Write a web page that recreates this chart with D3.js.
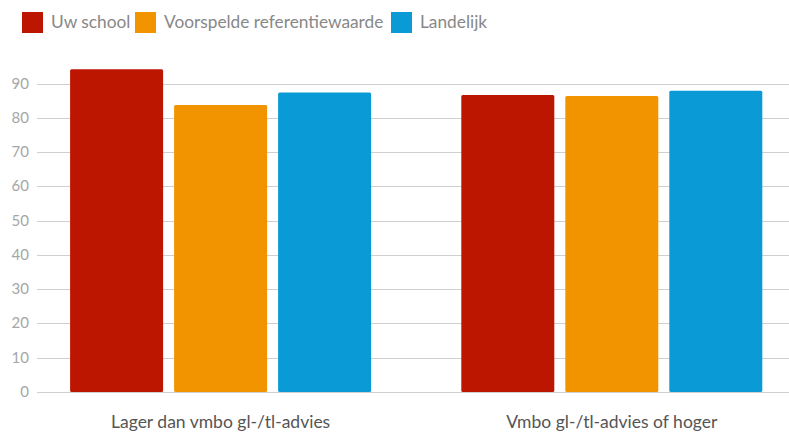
<!DOCTYPE html>
<html>
<head>
<meta charset="utf-8">
<script src="https://cdn.jsdelivr.net/npm/d3@7"></script>
<style>
  body { margin: 0; background: #fff; }
  svg { display: block; font-family: Lato, "Open Sans", sans-serif; }
</style>
</head>
<body>
<svg id="chart" width="789" height="434"></svg>
<script>
// chart data
const categories = ["Lager dan vmbo gl-/tl-advies", "Vmbo gl-/tl-advies of hoger"]
const seriesNames = ["Uw school", "Voorspelde referentiewaarde", "Landelijk"]
const seriesColors = ["#bd1600", "#f29400", "#0a9bd6"]
const uwSchool = [94.2, 86.7]
const voorspeld = [83.8, 86.4]
const landelijk = [87.4, 87.9]
const yTicks = [0, 10, 20, 30, 40, 50, 60, 70, 80, 90]

const seriesValues = [uwSchool, voorspeld, landelijk]

const svg = d3.select("#chart")
const gridLeft = 37
const gridRight = 789

const y = d3.scaleLinear()
  .domain([0, 100])
  .range([392, 49.4])

const x0 = d3.scaleBand()
  .domain(categories)
  .range([25, 807.4])

const groupWidth = 301
const x1 = d3.scaleBand()
  .domain(seriesNames)
  .range([(x0.step() - groupWidth) / 2, (x0.step() + groupWidth) / 2])
  .paddingInner(11 / 104)

// gridlines
svg.append("g")
  .selectAll("line")
  .data(yTicks)
  .enter().append("line")
  .attr("x1", gridLeft)
  .attr("x2", gridRight)
  .attr("y1", d => Math.round(y(d)) + 0.5)
  .attr("y2", d => Math.round(y(d)) + 0.5)
  .style("stroke", "#cfcfcf")
  .style("stroke-width", 1)

// y labels
svg.append("g")
  .selectAll("text")
  .data(yTicks)
  .enter().append("text")
  .attr("x", 29)
  .attr("y", d => y(d) + 5)
  .attr("text-anchor", "end")
  .style("font-size", "15px")
  .style("fill", "#a6a6a6")
  .text(d => d)

// bars
const groups = svg.append("g")
  .selectAll(".group")
  .data(categories)
  .enter().append("g")
  .attr("class", "group")
  .attr("transform", d => "translate(" + x0(d) + ",0)")

groups.selectAll("rect")
  .data((d, i) => seriesNames.map((s, j) => ({ name: s, value: seriesValues[j][i], color: seriesColors[j] })))
  .enter().append("rect")
  .attr("x", d => x1(d.name))
  .attr("y", d => y(d.value))
  .attr("width", x1.bandwidth())
  .attr("height", d => y(0) - y(d.value))
  .attr("rx", 1.5)
  .style("fill", d => d.color)

// category labels
svg.append("g")
  .selectAll("text")
  .data(categories)
  .enter().append("text")
  .attr("x", d => x0(d) + x0.bandwidth() / 2)
  .attr("y", 428)
  .attr("text-anchor", "middle")
  .style("font-size", "17.5px")
  .style("fill", "#555")
  .text(d => d)

// legend
const legendX = [22, 135, 391]
const legend = svg.append("g")
  .selectAll("g")
  .data(seriesNames)
  .enter().append("g")
  .attr("transform", (d, i) => "translate(" + legendX[i] + ",12)")

legend.append("rect")
  .attr("width", 21)
  .attr("height", 21)
  .style("fill", (d, i) => seriesColors[i])

legend.append("text")
  .attr("x", 29)
  .attr("y", 16)
  .style("font-size", "17.3px")
  .style("fill", "#888")
  .text(d => d)
</script>
</body>
</html>
